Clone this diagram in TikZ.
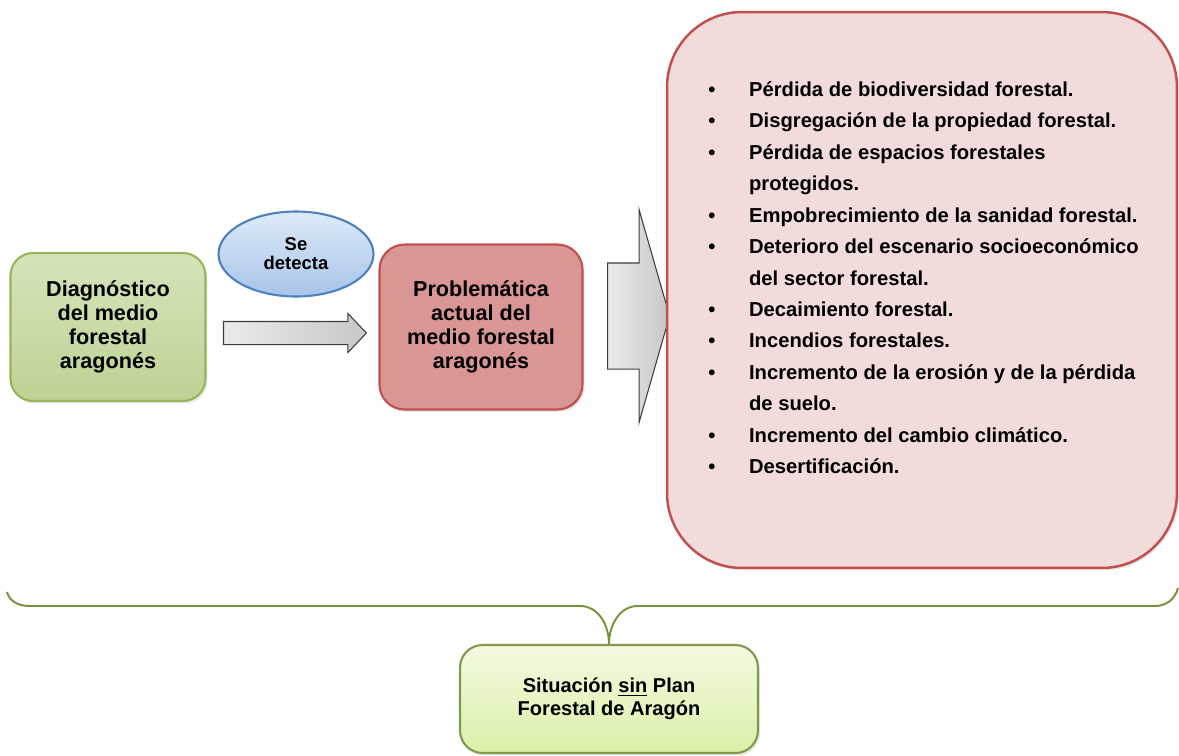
\documentclass[tikz,border=0pt]{standalone}
\usepackage{fontspec}
\setmainfont{Liberation Sans}
\usetikzlibrary{shapes.geometric}
\usetikzlibrary{shapes.arrows}
\usetikzlibrary{shadows}

\definecolor{verdeBorde}{RGB}{150,180,90}
\definecolor{verdeArriba}{RGB}{214,228,186}
\definecolor{verdeAbajo}{RGB}{190,210,148}
\definecolor{azulBorde}{RGB}{79,129,189}
\definecolor{azulArriba}{RGB}{222,234,248}
\definecolor{azulAbajo}{RGB}{168,196,234}
\definecolor{rojoBorde}{RGB}{192,80,77}
\definecolor{rojoFondo}{RGB}{217,150,148}
\definecolor{rosaFondo}{RGB}{242,220,219}
\definecolor{grisBorde}{RGB}{60,60,60}
\definecolor{limaArriba}{RGB}{244,250,226}
\definecolor{limaAbajo}{RGB}{218,240,168}
\definecolor{llaveColor}{RGB}{118,146,60}

\tikzset{
    caja/.style={draw, rounded corners=0.45cm, line width=1.2pt, align=center,
        inner sep=0pt, font=\bfseries\fontsize{12.3}{13.6}\selectfont,
        drop shadow={opacity=0.18, shadow xshift=0.04cm, shadow yshift=-0.05cm}},
    flecha/.style={single arrow, draw=grisBorde, line width=0.6pt, inner xsep=0pt,
        left color=white!92!black, right color=white!78!black},
    llave/.style={draw=llaveColor, line width=1.1pt},
}

\begin{document}
\begin{tikzpicture}[x=0.02cm, y=-0.02cm]
    \useasboundingbox (0, 0) rectangle (1179, 755);

    % lado izquierdo
    \node[caja, draw=verdeBorde, top color=verdeArriba, bottom color=verdeAbajo,
        minimum width=3.9cm, minimum height=2.96cm] (diag) at (108, 327) {Diagn\'ostico\\del medio\\forestal\\aragon\'es};
    \node[ellipse, draw=azulBorde, line width=1.2pt, top color=azulArriba, bottom color=azulAbajo,
        minimum width=3.1cm, minimum height=1.7cm, inner sep=0pt, align=center,
        font=\bfseries\fontsize{10.5}{10.8}\selectfont] (detecta) at (296, 254) {Se\\detecta};
    \node[flecha, inner ysep=0.22cm, minimum height=2.86cm,
        single arrow head extend=0.16cm, single arrow tip angle=93] (paso) at (289.5, 333) {};
    \node[caja, draw=rojoBorde, fill=rojoFondo, rounded corners=0.5cm,
        minimum width=4.06cm, minimum height=3.3cm] (problema) at (481, 327) {Problem\'atica\\actual del\\medio forestal\\aragon\'es};
    \node[flecha, inner ysep=1.05cm, minimum height=1.24cm,
        single arrow head extend=1.07cm, single arrow tip angle=148] (salida) at (631, 316) {};

    % lista de problemas
    \node[caja, draw=rojoBorde, fill=rosaFondo, rounded corners=1.5cm, line width=1.4pt,
        minimum width=10.2cm, minimum height=11.12cm] (marco) at (922, 290) {};
    \node[anchor=north west, inner sep=0pt, align=left,
        font=\bfseries\fontsize{11.5}{17.9}\selectfont] (items) at (708, 74) {%
        \begin{tabular}{@{}p{23.2pt}@{}l@{}}
            \textbullet & P\'erdida de biodiversidad forestal.\\
            \textbullet & Disgregaci\'on de la propiedad forestal.\\
            \textbullet & P\'erdida de espacios forestales\\
                        & protegidos.\\
            \textbullet & Empobrecimiento de la sanidad forestal.\\
            \textbullet & Deterioro del escenario socioecon\'omico\\
                        & del sector forestal.\\
            \textbullet & Decaimiento forestal.\\
            \textbullet & Incendios forestales.\\
            \textbullet & Incremento de la erosi\'on y de la p\'erdida\\
                        & de suelo.\\
            \textbullet & Incremento del cambio clim\'atico.\\
            \textbullet & Desertificaci\'on.
        \end{tabular}};

    % situacion final
    \node[caja, draw=verdeBorde!85!black, top color=limaArriba, bottom color=limaAbajo,
        minimum width=5.96cm, minimum height=2.16cm,
        font=\bfseries\fontsize{11.4}{13}\selectfont] (situacion) at (609, 699) {Situaci\'on \underline{sin} Plan\\Forestal de Arag\'on};

    \coordinate (llaveIzq) at (7, 592);
    \coordinate (llaveDer) at (1178, 588);
    \draw[llave] (llaveIzq) to[out=-75, in=180] (30, 606) -- (580, 606)
        to[out=0, in=90] (situacion.north);
    \draw[llave] (situacion.north) to[out=90, in=180] (638, 606) -- (1155, 606)
        to[out=0, in=-105] (llaveDer);
\end{tikzpicture}
\end{document}
